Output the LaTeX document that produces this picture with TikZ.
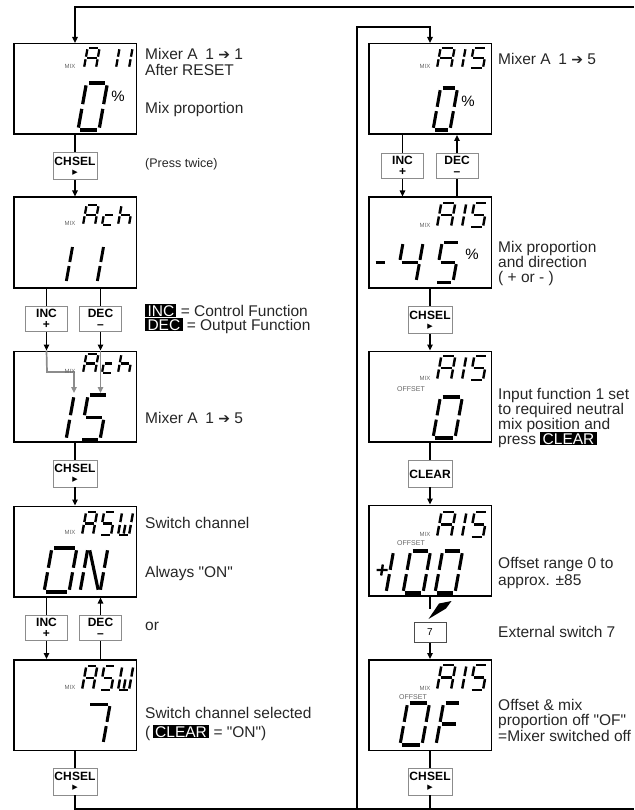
\documentclass[tikz,border=0pt]{standalone}
\usepackage{fontspec}
\setmainfont{Liberation Sans}
\newfontfamily\symfont{DejaVu Sans}
\usetikzlibrary{arrows.meta,calc}

\newcommand\notefont{\fontsize{15.5}{15.5}\selectfont}
\newcommand\btnfont{\fontsize{12}{10}\selectfont\bfseries}
\newcommand\arr{{\symfont\fontsize{14}{14}\selectfont ➔}}
\newcommand\tri{{\symfont\fontsize{7}{7}\selectfont ▶}}
\newcommand\qq[1]{\textquotedbl#1\textquotedbl}
\newcommand\hl[1]{{\setlength\fboxsep{0.8pt}\colorbox{black}{\hspace{1.5pt}\textcolor{white}{#1}\hspace{1.5pt}}}}

% seven-segment glyph pieces
\def\lcdsega{\draw (\lcdG,-\lcdH) -- (\lcdW-\lcdG,-\lcdH);}
\def\lcdsegb{\draw (\lcdW,-\lcdH+\lcdG) -- (\lcdW,-\lcdM-\lcdG);}
\def\lcdsegc{\draw (\lcdW,-\lcdM+\lcdG) -- (\lcdW,-\lcdG);}
\def\lcdsegd{\draw (\lcdG,0) -- (\lcdW-\lcdG,0);}
\def\lcdsege{\draw (0,-\lcdG) -- (0,-\lcdM+\lcdG);}
\def\lcdsegf{\draw (0,-\lcdM-\lcdG) -- (0,-\lcdH+\lcdG);}
\def\lcdsegg{\draw (\lcdG,-\lcdM) -- (\lcdW-\lcdG,-\lcdM);}
\def\lcdsegn{\draw (\lcdG,-\lcdH+\lcdG) -- (\lcdW-\lcdG,-\lcdG);}
\def\lcdsegu{\draw ({\lcdW/2},-\lcdG) -- ({\lcdW/2},-\lcdM+\lcdG);}

% x y (bottom left), width, height, segments
\newcommand\lcdchar[5]{%
  \def\lcdW{#3}\def\lcdH{#4}%
  \pgfmathsetmacro\lcdM{#4/2}%
  \pgfmathsetmacro\lcdG{0.5+0.04*#4}%
  \pgfmathsetmacro\lcdL{1.6+0.035*#4}%
  \begin{scope}[shift={(#1,#2)},xslant=0.18,line width=\lcdL pt,line cap=butt]
    \foreach \s in {#5}{\csname lcdseg\s\endcsname}
  \end{scope}}

\begin{document}
\begin{tikzpicture}[x=1pt,y=-1pt,
    display/.style={draw, line width=1.5pt, minimum width=122.5pt, minimum height=90.5pt, inner sep=0pt},
    btn/.style={draw=black!45, line width=0.9pt, minimum width=44pt, minimum height=27pt, inner sep=0pt, align=center, font=\btnfont},
    pm/.style={btn, minimum width=42pt, minimum height=25pt},
    link/.style={line width=1.7pt},
    flow/.style={link, -{Triangle[length=6pt,width=5.5pt]}},
    grayflow/.style={flow, black!45},
    note/.style={anchor=base west, inner sep=0pt, align=left, font=\notefont, text=black!85},
    mixtag/.style={font=\fontsize{6}{6}\selectfont, text=black!60, inner sep=0pt},
    offtag/.style={font=\fontsize{7}{7}\selectfont, text=black!60, inner sep=0pt},
    pct/.style={font=\fontsize{15}{15}\selectfont, inner sep=0pt}]
  \useasboundingbox (0,0) rectangle (634,810);

  % left column
  \node[display] (reset) at (75,89) {};
  \node[btn] (chsel1) at (75,166) {CH\kern.5ptSEL\\[-1pt]\tri};
  \node[display] (chan) at (75,242.5) {};
  \node[pm] (inc1) at (46.5,319) {INC\\[1.5pt]+};
  \node[pm] (dec1) at (100.5,319) {DEC\\[1.5pt]\textendash};
  \node[display] (chanB) at (75,396.5) {};
  \node[btn] (chsel2) at (75,473.5) {CH\kern.5ptSEL\\[-1pt]\tri};
  \node[display] (swon) at (75,551.5) {};
  \node[pm] (inc2) at (46.5,628) {INC\\[1.5pt]+};
  \node[pm] (dec2) at (100.5,628) {DEC\\[1.5pt]\textendash};
  \node[display] (swsel) at (75,705) {};
  \node[btn] (chsel3) at (75,781.5) {CH\kern.5ptSEL\\[-1pt]\tri};

  % right column
  \node[display] (mixR) at (430,89) {};
  \node[pm] (inc3) at (402.5,166) {INC\\[1.5pt]+};
  \node[pm] (dec3) at (457,166) {DEC\\[1.5pt]\textendash};
  \node[display] (prop) at (430,242.5) {};
  \node[btn] (chsel4) at (430,320) {CH\kern.5ptSEL\\[-1pt]\tri};
  \node[display] (offs) at (430,396.5) {};
  \node[btn] (clear) at (430,473.5) {\mbox{}\\CLEAR};
  \node[display] (offr) at (430,550.5) {};
  \node[draw=black!70, line width=0.9pt, minimum width=32pt, minimum height=20pt, inner sep=0pt,
        font=\fontsize{10}{10}\selectfont] (ext) at (430,632.5) {7};
  \node[display] (offoff) at (430,705) {};
  \node[btn] (chsel5) at (430,781.5) {CH\kern.5ptSEL\\[-1pt]\tri};

  % connectors
  \coordinate (topR) at (634,7);
  \coordinate (botR) at (634,809);
  \coordinate (loopB) at (357,809);
  \coordinate (loopT) at (357,27);
  \coordinate (bend) at (47,372);
  \coordinate (grayA) at (74,393);
  \coordinate (grayB) at (100.5,393);
  \coordinate (contact) at (430,609);

  \draw[flow] (topR) -| (reset);
  \draw[link] (reset) -- (chsel1);
  \draw[flow] (chsel1) -- (chan);
  \draw[link] (chan.south -| inc1) -- (inc1);
  \draw[flow] (inc1) -- (inc1 |- chanB.north);
  \draw[link] (chan.south -| dec1) -- (dec1);
  \draw[flow] (dec1) -- (dec1 |- chanB.north);
  \draw[grayflow] (inc1 |- chanB.north) -- (bend) -| (grayA);
  \draw[grayflow] (dec1 |- chanB.north) -- (grayB);
  \draw[link] (chanB) -- (chsel2);
  \draw[flow] (chsel2) -- (swon);
  \draw[link] (swon.south -| inc2) -- (inc2);
  \draw[flow] (inc2) -- (inc2 |- swsel.north);
  \draw[link] (swsel.north -| dec2) -- (dec2);
  \draw[flow] (dec2) -- (dec2 |- swon.south);
  \draw[link] (swsel) -- (chsel3);
  \draw[link] (chsel3) |- (botR);

  \draw[flow] (loopB) -- (loopT) -| (mixR);
  \draw[link] (mixR.south -| inc3) -- (inc3);
  \draw[flow] (inc3) -- (inc3 |- prop.north);
  \draw[link] (prop.north -| dec3) -- (dec3);
  \draw[flow] (dec3) -- (dec3 |- mixR.south);
  \draw[link] (prop) -- (chsel4);
  \draw[flow] (chsel4) -- (offs);
  \draw[link] (offs) -- (clear);
  \draw[flow] (clear) -- (offr);
  \draw[link] (offr) -- (contact);
  \fill (428.5,619) -- (439,603.5) -- (451.5,601) -- (446,608.5) -- cycle;
  \draw[flow] (ext) -- (offoff);
  \draw[link] (offoff) -- (chsel5);
  \draw[link] (chsel5) -- (chsel5 |- botR);

  % display contents, left
  \node[mixtag] (mix1) at (70,66) {MIX};
  \lcdchar{84}{68}{12}{20}{a,b,c,e,f,g}
  \lcdchar{104}{68}{12}{20}{b,c}
  \lcdchar{117}{68}{12}{20}{b,c}
  \lcdchar{78}{130}{21}{47}{a,b,c,d,e,f}
  \node[pct] (pct1) at (118,96) {\%};

  \node[mixtag] (mix2) at (70,223) {MIX};
  \lcdchar{83}{225}{12}{20}{a,b,c,e,f,g}
  \lcdchar{102}{225}{10}{20}{g,e,d}
  \lcdchar{118}{225}{11}{20}{f,e,g,c}
  \lcdchar{50}{283}{16}{38}{b,c}
  \lcdchar{81}{283}{16}{38}{b,c}

  \node[mixtag] (mix3) at (70,371) {MIX};
  \lcdchar{83}{373}{12}{19}{a,b,c,e,f,g}
  \lcdchar{102}{373}{10}{19}{g,e,d}
  \lcdchar{118}{373}{11}{19}{f,e,g,c}
  \lcdchar{50}{440}{16}{45}{b,c}
  \lcdchar{80}{440}{20}{45}{a,f,g,c,d}

  \node[mixtag] (mix4) at (70,532) {MIX};
  \lcdchar{82}{535}{11}{23}{a,b,c,e,f,g}
  \lcdchar{100}{535}{11}{23}{a,f,g,c,d}
  \lcdchar{118}{535}{11}{23}{f,e,b,c,d,u}
  \lcdchar{44}{592}{25}{44}{a,b,c,d,e,f}
  \lcdchar{80}{592}{20}{44}{f,e,b,c,n}

  \node[mixtag] (mix5) at (70,687) {MIX};
  \lcdchar{82}{690}{11}{24}{a,b,c,e,f,g}
  \lcdchar{100}{690}{11}{24}{a,f,g,c,d}
  \lcdchar{118}{690}{11}{24}{f,e,b,c,d,u}
  \lcdchar{81}{744}{22}{40}{a,b,c}

  % display contents, right
  \node[mixtag] (mix6) at (425,66) {MIX};
  \lcdchar{437}{68}{14}{20}{a,b,c,e,f,g}
  \lcdchar{450}{68}{12}{20}{b,c}
  \lcdchar{470}{68}{13}{20}{a,f,g,c,d}
  \lcdchar{433}{130}{17}{42}{a,b,c,d,e,f}
  \node[pct] (pct2) at (468,101) {\%};

  \node[mixtag] (mix7) at (425,225) {MIX};
  \lcdchar{437}{227}{14}{24}{a,b,c,e,f,g}
  \lcdchar{450}{227}{12}{24}{b,c}
  \lcdchar{470}{227}{13}{24}{a,f,g,c,d}
  \lcdchar{370}{282}{13}{40}{g}
  \lcdchar{396}{282}{20}{40}{f,g,b,c}
  \lcdchar{435}{282}{18}{40}{a,f,g,c,d}
  \node[pct] (pct3) at (472,254) {\%};

  \node[mixtag] (mix8) at (425,378) {MIX};
  \lcdchar{437}{380}{14}{24}{a,b,c,e,f,g}
  \lcdchar{450}{380}{12}{24}{b,c}
  \lcdchar{470}{380}{13}{24}{a,f,g,c,d}
  \node[offtag] (off1) at (411,389) {OFFSET};
  \lcdchar{433}{438}{22}{41}{a,b,c,d,e,f}

  \node[mixtag] (mix9) at (425,534) {MIX};
  \lcdchar{437}{537}{14}{25}{a,b,c,e,f,g}
  \lcdchar{450}{537}{12}{25}{b,c}
  \lcdchar{470}{537}{13}{25}{a,f,g,c,d}
  \node[offtag] (off2) at (411,543) {OFFSET};
  \draw[line width=2.4pt] (376.5,570) -- (387.5,570) (382.8,564.5) -- (381.2,575.5);
  \lcdchar{370}{593}{16}{42}{b,c}
  \lcdchar{403}{593}{20}{42}{a,b,c,d,e,f}
  \lcdchar{435}{593}{20}{42}{a,b,c,d,e,f}

  \node[mixtag] (mix10) at (425,688) {MIX};
  \lcdchar{437}{690}{14}{25}{a,b,c,e,f,g}
  \lcdchar{450}{690}{12}{25}{b,c}
  \lcdchar{470}{690}{13}{25}{a,f,g,c,d}
  \node[offtag] (off3) at (413,697) {OFFSET};
  \lcdchar{400}{745}{22}{42}{a,b,c,d,e,f}
  \lcdchar{436}{745}{18}{42}{a,f,e,g}

  % notes, left (anchored at the baseline of the last line)
  \node[note] (n1) at (145,76) {Mixer A\enspace 1 \arr{} 1\\[0.5pt]After RESET};
  \node[note] (n2) at (145,114) {Mix proportion};
  \node[note, font=\fontsize{12.5}{12.5}\selectfont] (n3) at (145,168) {(Press twice)};
  \node[note, font=\fontsize{15.5}{14}\selectfont] (n4) at (145,330) {\hl{INC} = Control Function\\\hl{DEC} = Output Function};
  \node[note] (n5) at (145,423) {Mixer A\enspace 1 \arr{} 5};
  \node[note] (n6) at (145,528) {Switch channel};
  \node[note] (n7) at (145,577) {Always \qq{ON}};
  \node[note] (n8) at (145,630) {or};
  \node[note] (n9) at (145,737) {Switch channel selected\\[3pt](\,\hl{CLEAR} = \qq{ON})};

  % notes, right
  \node[note] (n10) at (498,65) {Mixer A\enspace 1 \arr{} 5};
  \node[note, font=\fontsize{15.5}{14.2}\selectfont] (n11) at (498,282) {Mix proportion\\and direction\\( + or - )};
  \node[note, font=\fontsize{15.5}{15}\selectfont] (n12) at (498,444) {Input function 1 set\\to required neutral\\mix position and\\press \hl{CLEAR}};
  \node[note, font=\fontsize{15.5}{16.5}\selectfont] (n13) at (498,585) {Offset range 0 to\\approx. ±85};
  \node[note] (n14) at (498,637) {External switch 7};
  \node[note] (n15) at (498,741) {Offset \& mix\\proportion off \qq{OF}\\=Mixer switched off};
\end{tikzpicture}
\end{document}
